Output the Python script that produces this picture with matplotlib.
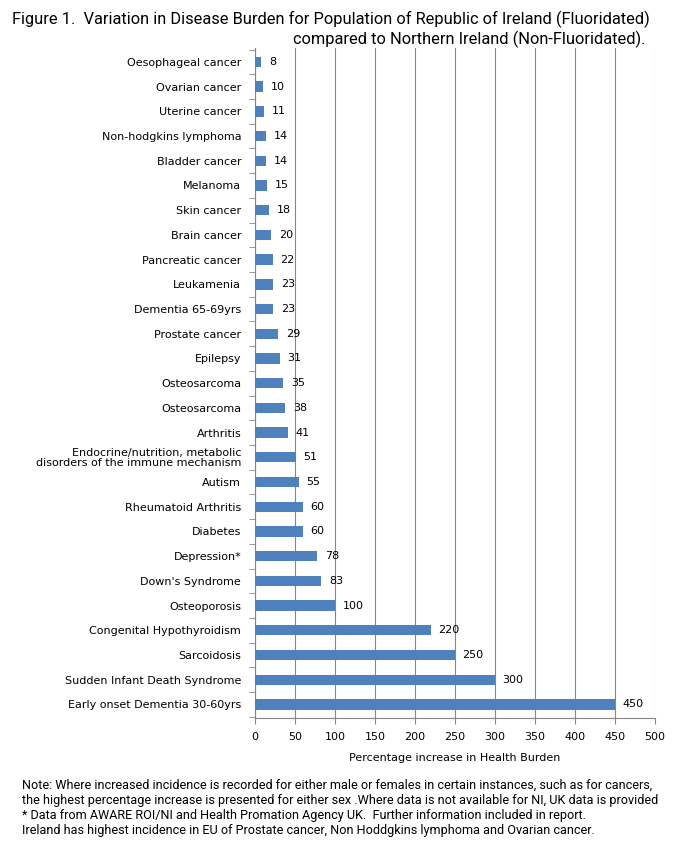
import numpy as np
import matplotlib.pyplot as plt

# disease categories, top to bottom
diseases = ["Oesophageal cancer", "Ovarian cancer", "Uterine cancer",
            "Non-hodgkins lymphoma", "Bladder cancer", "Melanoma",
            "Skin cancer", "Brain cancer", "Pancreatic cancer", "Leukamenia",
            "Dementia 65-69yrs", "Prostate cancer", "Epilepsy", "Osteosarcoma",
            "Osteosarcoma", "Arthritis",
            "Endocrine/nutrition, metabolic\ndisorders of the immune mechanism",
            "Autism", "Rheumatoid Arthritis", "Diabetes", "Depression*",
            "Down's Syndrome", "Osteoporosis", "Congenital Hypothyroidism",
            "Sarcoidosis", "Sudden Infant Death Syndrome",
            "Early onset Dementia 30-60yrs"]
increase = [8, 10, 11, 14, 14, 15, 18, 20, 22, 23, 23, 29, 31, 35, 38, 41,
            51, 55, 60, 60, 78, 83, 100, 220, 250, 300, 450]
xticks = [0, 50, 100, 150, 200, 250, 300, 350, 400, 450, 500]

plt.rcParams['font.family'] = ['DejaVu Sans']
narrow = ['Roboto', 'DejaVu Sans']

fig = plt.figure(figsize=(6.73, 8.63), dpi=100)
ax = fig.add_axes([0.379, 0.168, 0.594, 0.776])

y = np.arange(len(diseases))
ax.barh(y, increase, height=0.42, color='#4F81BD', zorder=3)
for yi, v in zip(y, increase):
    ax.annotate(str(v), (v, yi), xytext=(5.5, 0), textcoords='offset points',
                va='center', ha='left', fontsize=8, color='black')

ax.set_ylim(len(diseases) - 0.45, -0.55)
ax.set_xlim(0, 500)
ax.set_xticks(xticks)
ax.set_xticklabels([str(t) for t in xticks], fontsize=8)
ax.set_yticks(y)
ax.set_yticklabels(diseases, fontsize=8, linespacing=1.0)
ax.tick_params(axis='y', length=0, pad=10)
ax.set_yticks(np.arange(len(diseases) + 1) - 0.5, minor=True)
ax.tick_params(axis='y', which='minor', length=4, color='#868686')
ax.tick_params(axis='x', length=4, color='#868686', pad=6)

ax.grid(axis='x', color='#868686', linewidth=0.8, zorder=0)
for s in ['top', 'right']:
    ax.spines[s].set_visible(False)
ax.spines['left'].set_color('#868686')
ax.spines['bottom'].set_color('#868686')

ax.set_xlabel('Percentage increase in Health Burden', fontsize=8, labelpad=8)

fig.text(0.966, 0.988, 'Figure 1.  Variation in Disease Burden for Population of Republic of Ireland (Fluoridated)',
         ha='right', va='top', fontsize=11.8, family=narrow)
fig.text(0.959, 0.964, 'compared to Northern Ireland (Non-Fluoridated).',
         ha='right', va='top', fontsize=11.8, family=narrow)

note = ("Note: Where increased incidence is recorded for either male or females in certain instances, such as for cancers,\n"
        "the highest percentage increase is presented for either sex .Where data is not available for NI, UK data is provided\n"
        "* Data from AWARE ROI/NI and Health Promation Agency UK.  Further information included in report.\n"
        "Ireland has highest incidence in EU of Prostate cancer, Non Hoddgkins lymphoma and Ovarian cancer.")
fig.text(0.033, 0.098, note, ha='left', va='top', fontsize=9.1, family=narrow,
         linespacing=1.22)

fig.savefig('out.png', dpi=100)
